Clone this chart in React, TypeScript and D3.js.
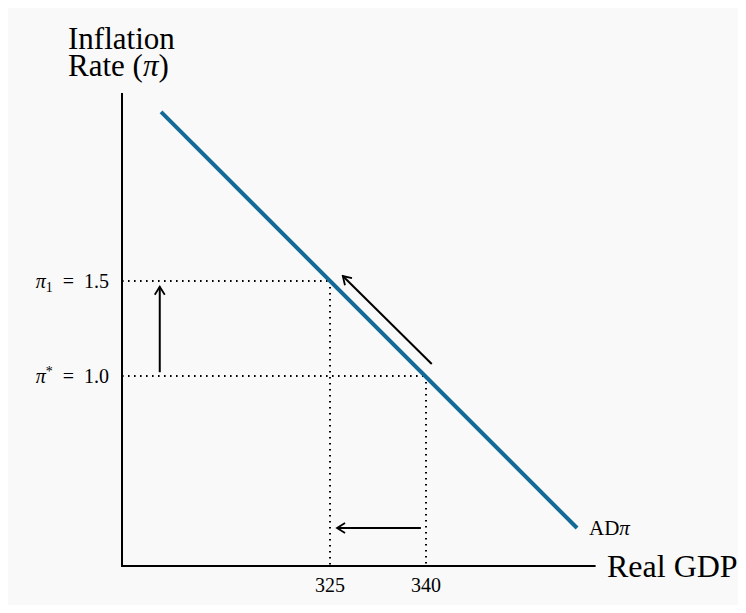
import React, { useEffect, useRef } from 'react';
import * as d3 from 'd3';

// values
const gdpTicks = [325, 340];
const inflationLevels = [
  { name: 'π*', sup: '*', sub: '', value: 1.0 },
  { name: 'π1', sup: '', sub: '1', value: 1.5 },
];
// intersection points with AD curve
const equilibria = [
  { gdp: 340, pi: 1.0 },
  { gdp: 325, pi: 1.5 },
];
const adCurve = [
  { gdp: 298.6, pi: 2.39 },
  { gdp: 363.6, pi: 0.2 },
];
const arrows = [
  { from: { gdp: 298.4, pi: 1.02 }, to: { gdp: 298.4, pi: 1.47 } },
  { from: { gdp: 340.9, pi: 1.063 }, to: { gdp: 327.0, pi: 1.526 } },
  { from: { gdp: 339.2, pi: 0.2 }, to: { gdp: 326.1, pi: 0.2 } },
];

const W = 730;
const H = 597;
const FONT = '"Liberation Serif", "Times New Roman", serif';

const App: React.FC = () => {
  const svgRef = useRef<SVGSVGElement>(null);

  useEffect(() => {
    if (!svgRef.current) return;
    const svg = d3.select(svgRef.current);
    svg.selectAll('*').remove();

    // svg sits at (8,8) on the page, so shift page coords by -8
    const g = svg.append('g').attr('transform', 'translate(-8,-8)');

    const x = d3.scaleLinear().domain([292.5, 366.5]).range([122, 595.6]);
    const y = d3.scaleLinear().domain([0, 2.5]).range([566, 91]);

    svg.append('defs').append('marker')
      .attr('id', 'head')
      .attr('viewBox', '-10 -6 12 12')
      .attr('refX', 0)
      .attr('refY', 0)
      .attr('markerWidth', 12)
      .attr('markerHeight', 12)
      .attr('markerUnits', 'userSpaceOnUse')
      .attr('orient', 'auto')
      .append('path')
      .attr('d', 'M-8,-5 L0,0 L-8,5')
      .attr('fill', 'none')
      .attr('stroke', '#000')
      .attr('stroke-width', 1.8);

    // dotted guides
    equilibria.forEach(p => {
      g.append('line')
        .attr('x1', x(292.5)).attr('x2', x(p.gdp))
        .attr('y1', y(p.pi)).attr('y2', y(p.pi))
        .attr('stroke', '#000').attr('stroke-width', 2)
        .attr('stroke-dasharray', '1.6 4.4');
      g.append('line')
        .attr('x1', x(p.gdp)).attr('x2', x(p.gdp))
        .attr('y1', y(p.pi)).attr('y2', y(0))
        .attr('stroke', '#000').attr('stroke-width', 2)
        .attr('stroke-dasharray', '1.6 4.4');
    });

    // axes
    g.append('line')
      .attr('x1', x(292.5)).attr('x2', x(292.5))
      .attr('y1', y(2.49)).attr('y2', y(0) + 1)
      .attr('stroke', '#000').attr('stroke-width', 2);
    g.append('line')
      .attr('x1', x(292.5) - 1).attr('x2', x(366.5))
      .attr('y1', y(0)).attr('y2', y(0))
      .attr('stroke', '#000').attr('stroke-width', 2);

    // AD curve
    const line = d3.line<{ gdp: number; pi: number }>()
      .x(d => x(d.gdp))
      .y(d => y(d.pi));
    g.append('path')
      .attr('d', line(adCurve) as string)
      .attr('fill', 'none')
      .attr('stroke', '#136a97')
      .attr('stroke-width', 4);

    // movement arrows
    arrows.forEach(a => {
      g.append('line')
        .attr('x1', x(a.from.gdp)).attr('y1', y(a.from.pi))
        .attr('x2', x(a.to.gdp)).attr('y2', y(a.to.pi))
        .attr('stroke', '#000').attr('stroke-width', 2)
        .attr('marker-end', 'url(#head)');
    });

    // x tick labels
    gdpTicks.forEach(t => {
      g.append('text')
        .attr('x', x(t)).attr('y', 592)
        .attr('text-anchor', 'middle')
        .attr('font-family', FONT)
        .attr('font-size', 20)
        .text(t);
    });

    // y labels
    inflationLevels.forEach(l => {
      const txt = g.append('text')
        .attr('x', 109).attr('y', y(l.value) + 7)
        .attr('text-anchor', 'end')
        .attr('font-family', FONT)
        .attr('font-size', 20);
      txt.append('tspan').attr('font-style', 'italic').text('π');
      if (l.sub) txt.append('tspan').attr('font-size', 14).attr('dy', 4).text(l.sub);
      if (l.sup) txt.append('tspan').attr('font-size', 14).attr('dy', -7).text(l.sup);
      txt.append('tspan').attr('dy', l.sub ? -4 : 7).text(`\u2002=\u2002${l.value.toFixed(1)}`);
    });

    // AD label
    const ad = g.append('text')
      .attr('x', 589).attr('y', 535)
      .attr('font-family', FONT)
      .attr('font-size', 21);
    ad.append('tspan').text('AD');
    ad.append('tspan').attr('font-style', 'italic').text('π');

    // axis titles
    g.append('text')
      .attr('x', 607).attr('y', 577)
      .attr('font-family', FONT)
      .attr('font-size', 32)
      .text('Real GDP');
    g.append('text')
      .attr('x', 68).attr('y', 49)
      .attr('font-family', FONT)
      .attr('font-size', 31)
      .text('Inflation');
    const rate = g.append('text')
      .attr('x', 68).attr('y', 76)
      .attr('font-family', FONT)
      .attr('font-size', 31);
    rate.append('tspan').text('Rate (');
    rate.append('tspan').attr('font-style', 'italic').text('π');
    rate.append('tspan').text(')');
  }, []);

  return (
    <svg ref={svgRef} width={W} height={H} style={{ display: 'block', background: '#f9f9f9' }} />
  );
};

export default App;
